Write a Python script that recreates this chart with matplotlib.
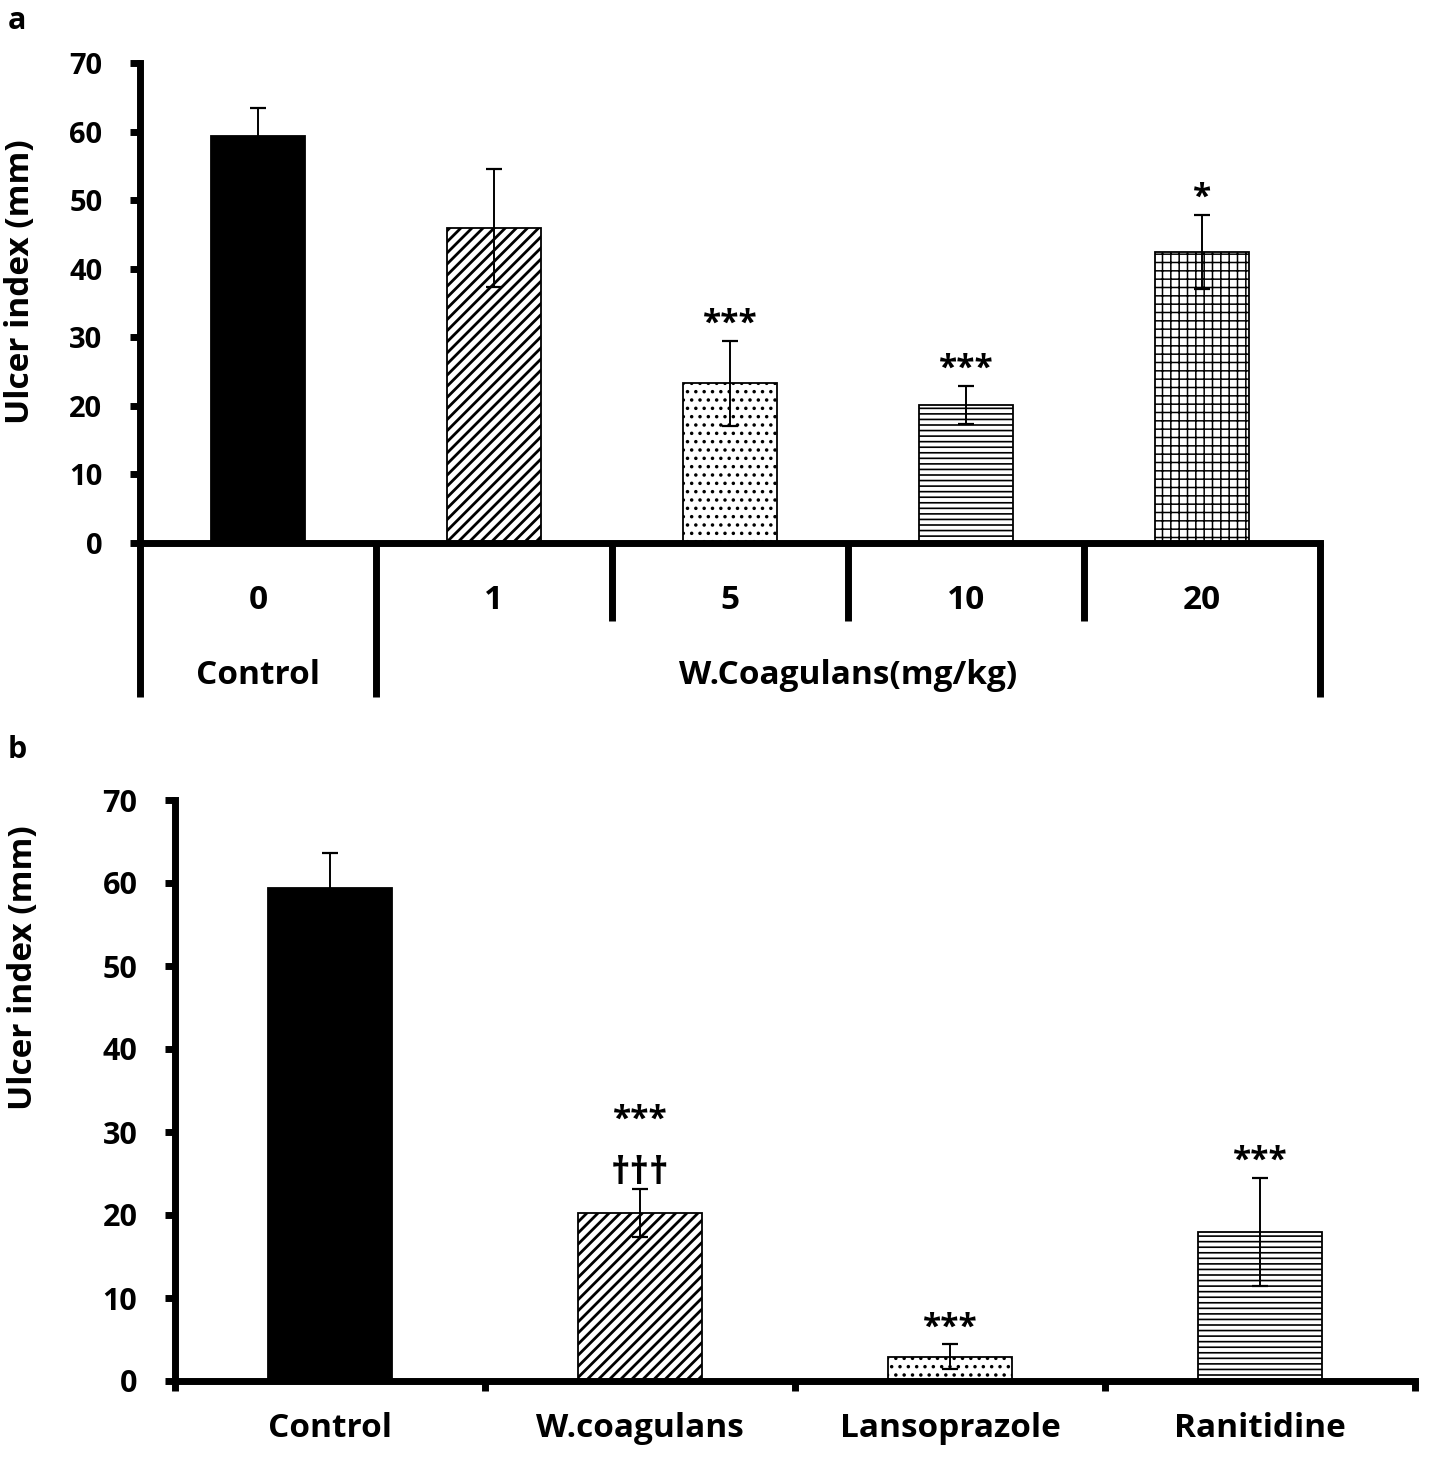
import numpy as np
import matplotlib
matplotlib.use("Agg")
import matplotlib.pyplot as plt
import matplotlib.transforms as mtransforms

plt.rcParams['font.family'] = ['Open Sans', 'DejaVu Sans']
plt.rcParams['font.weight'] = 'bold'
plt.rcParams['hatch.linewidth'] = 1.3

# ---------------- data ----------------
# Panel a
a_doses = ["0", "1", "5", "10", "20"]
a_groups = ["Control", "W.Coagulans(mg/kg)"]
a_means = [59.3, 46.0, 23.3, 20.1, 42.5]
a_errs = [4.2, 8.6, 6.2, 2.8, 5.4]
a_sig = ["", "", "***", "***", "*"]
a_hatches = [None, "///", "..", "---", "++"]
a_faces = ["black", "white", "white", "white", "white"]

# Panel b
b_groups = ["Control", "W.coagulans", "Lansoprazole", "Ranitidine"]
b_means = [59.4, 20.2, 2.9, 18.0]
b_errs = [4.2, 2.9, 1.5, 6.5]
b_sig = ["", "***", "***", "***"]
b_sig2 = ["", "\u2020\u2020\u2020", "", ""]
b_hatches = [None, "///", "..", "---"]
b_faces = ["black", "white", "white", "white"]

yticks = [0, 10, 20, 30, 40, 50, 60, 70]

W, H = 1432, 1464
fig = plt.figure(figsize=(W / 100, H / 100), dpi=100)

SPW = 5.0  # spine width (pt)
XT_FS = 24
YL_FS = 24
STAR_FS = 24

HATCH_LW = {"///": 2.0, "..": 1.3, "---": 1.2, "++": 1.1}

def frac(x0, y0, x1, y1):
    return [x0 / W, 1 - y1 / H, (x1 - x0) / W, (y1 - y0) / H]

def apply_hatches(ax, hatches):
    for p, h in zip(ax.patches, hatches):
        if h:
            p.set_hatch(h)
            if hasattr(p, "set_hatch_linewidth"):
                p.set_hatch_linewidth(HATCH_LW.get(h, 1.3))

def style_axes(ax, yt_fs):
    for s in ["top", "right"]:
        ax.spines[s].set_visible(False)
    for s in ["left", "bottom"]:
        ax.spines[s].set_linewidth(SPW)
    ax.tick_params(axis="y", direction="out", length=7, width=5, pad=20,
                   labelsize=yt_fs)
    for lab in ax.get_yticklabels():
        lab.set_fontweight("bold")

# ================= Panel a =================
axa = fig.add_axes(frac(140, 63, 1320, 543))
xa = np.arange(len(a_means))
axa.bar(xa, a_means, width=0.4, color=a_faces, edgecolor="black",
        linewidth=1.3, zorder=2)
apply_hatches(axa, a_hatches)
axa.errorbar(xa, a_means, yerr=a_errs, fmt="none", ecolor="black",
             elinewidth=1.4, capsize=6, capthick=1.6, zorder=3)
for i, s in enumerate(a_sig):
    if s:
        axa.annotate(s, xy=(xa[i], a_means[i] + a_errs[i]), xytext=(0, 0),
                     textcoords="offset points", ha="center", va="bottom",
                     fontsize=STAR_FS, fontweight="bold")
axa.set_xlim(-0.5, len(a_means) - 0.5)
axa.set_ylim(0, 70)
axa.set_yticks(yticks)
axa.set_xticks([])
style_axes(axa, 21)
axa.set_ylabel("Ulcer index (mm)", fontsize=YL_FS, fontweight="bold")
axa.yaxis.set_label_coords(-0.087, 0.544)

trans_a = mtransforms.blended_transform_factory(axa.transData, axa.transAxes)
bounds = np.arange(len(a_means) + 1) - 0.5
long_bounds = [bounds[0], bounds[1], bounds[-1]]
for b in bounds:
    yb = -0.32 if b in long_bounds else -0.163
    axa.plot([b, b], [0, yb], color="black", lw=SPW, transform=trans_a,
             clip_on=False, solid_capstyle="butt")
for i, d in enumerate(a_doses):
    axa.text(xa[i], -0.119, d, transform=trans_a, ha="center", va="center",
             fontsize=XT_FS, fontweight="bold")
axa.text(xa[0], -0.277, a_groups[0], transform=trans_a, ha="center",
         va="center", fontsize=XT_FS, fontweight="bold")
axa.text((xa[1] + xa[-1]) / 2, -0.277, a_groups[1], transform=trans_a,
         ha="center", va="center", fontsize=XT_FS, fontweight="bold")

# ================= Panel b =================
axb = fig.add_axes(frac(175, 800, 1415, 1381))
xb = np.arange(len(b_means))
axb.bar(xb, b_means, width=0.4, color=b_faces, edgecolor="black",
        linewidth=1.3, zorder=2)
apply_hatches(axb, b_hatches)
axb.errorbar(xb, b_means, yerr=b_errs, fmt="none", ecolor="black",
             elinewidth=1.4, capsize=6, capthick=1.6, zorder=3)
for i in range(len(b_means)):
    top = b_means[i] + b_errs[i]
    if b_sig2[i]:
        axb.annotate(b_sig2[i], xy=(xb[i], top), xytext=(0, -3),
                     textcoords="offset points", ha="center", va="bottom",
                     fontsize=27, fontweight="bold")
        axb.annotate(b_sig[i], xy=(xb[i], top), xytext=(0, 38),
                     textcoords="offset points", ha="center", va="bottom",
                     fontsize=STAR_FS, fontweight="bold")
    elif b_sig[i]:
        axb.annotate(b_sig[i], xy=(xb[i], top), xytext=(0, 0),
                     textcoords="offset points", ha="center", va="bottom",
                     fontsize=STAR_FS, fontweight="bold")
axb.set_xlim(-0.5, len(b_means) - 0.5)
axb.set_ylim(0, 70)
axb.set_yticks(yticks)
axb.set_xticks(np.arange(len(b_means) + 1) - 0.5)
axb.set_xticklabels([])
axb.set_xticks(xb, minor=True)
axb.set_xticklabels(b_groups, minor=True)
axb.tick_params(axis="x", which="major", direction="out", length=7, width=5)
axb.tick_params(axis="x", which="minor", length=0, pad=22, labelsize=XT_FS)
for lab in axb.get_xticklabels(minor=True):
    lab.set_fontweight("bold")
style_axes(axb, 22)
axb.set_ylabel("Ulcer index (mm)", fontsize=YL_FS, fontweight="bold")
axb.yaxis.set_label_coords(-0.109, 0.711)

fig.text(8 / W, 1 - 21 / H, "a", fontsize=22, fontweight="bold",
         ha="left", va="center")
fig.text(8 / W, 1 - 750 / H, "b", fontsize=22, fontweight="bold",
         ha="left", va="center")

fig.savefig("out.png", dpi=100, facecolor="white")
